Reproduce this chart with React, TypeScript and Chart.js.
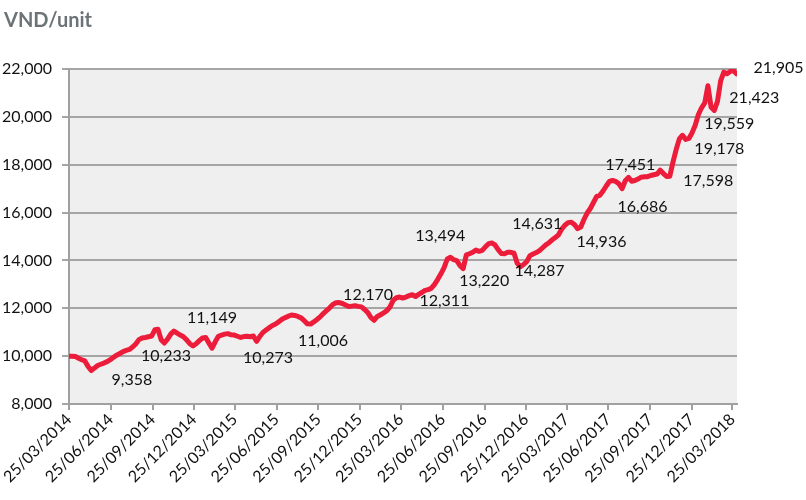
import { useEffect, useRef } from "react";
import { Chart, registerables } from "chart.js";

Chart.register(...registerables);

const START_DATE = "25/03/2014";

const xTickLabels = [
  "25/03/2014", "25/06/2014", "25/09/2014", "25/12/2014",
  "25/03/2015", "25/06/2015", "25/09/2015", "25/12/2015",
  "25/03/2016", "25/06/2016", "25/09/2016", "25/12/2016",
  "25/03/2017", "25/06/2017", "25/09/2017", "25/12/2017",
  "25/03/2018",
];

const yTickValues = [8000, 10000, 12000, 14000, 16000, 18000, 20000, 22000];

// weekly price (VND/unit) starting 25/03/2014
const weeklyPrice = [
  10000, 10000, 9990, 9910, 9850, 9800, 9570, 9400, 9500, 9610,
  9660, 9710, 9770, 9850, 9950, 10040, 10110, 10190, 10240, 10280,
  10380, 10510, 10690, 10760, 10780, 10810, 10840, 11100, 11120, 10680,
  10550, 10710, 10920, 11050, 10960, 10880, 10810, 10680, 10520, 10430,
  10520, 10650, 10760, 10780, 10550, 10330, 10600, 10830, 10880, 10920,
  10940, 10890, 10880, 10830, 10780, 10820, 10830, 10810, 10840, 10620,
  10820, 10990, 11090, 11190, 11280, 11340, 11440, 11540, 11610, 11670,
  11720, 11700, 11660, 11600, 11480, 11350, 11340, 11430, 11530, 11640,
  11780, 11900, 12020, 12160, 12230, 12240, 12200, 12140, 12070, 12090,
  12110, 12080, 12060, 11950, 11820, 11610, 11500, 11660, 11730, 11810,
  11900, 12060, 12340, 12440, 12470, 12430, 12470, 12530, 12570, 12490,
  12580, 12660, 12750, 12780, 12840, 13000, 13210, 13440, 13700, 14060,
  14130, 14030, 13990, 13780, 13660, 14230, 14280, 14340, 14430, 14380,
  14420, 14570, 14700, 14730, 14650, 14450, 14290, 14280, 14340, 14340,
  14300, 13880, 13740, 13830, 13950, 14200, 14270, 14330, 14410, 14530,
  14650, 14740, 14860, 14960, 15070, 15310, 15470, 15580, 15600, 15500,
  15330, 15400, 15710, 15980, 16170, 16420, 16680, 16720, 16900, 17110,
  17300, 17340, 17300, 17200, 17000, 17330, 17470, 17310, 17340, 17400,
  17480, 17500, 17500, 17550, 17580, 17610, 17770, 17630, 17510, 17520,
  18110, 18630, 19080, 19230, 19060, 19100, 19330, 19650, 20100, 20380,
  20580, 21300, 20400, 20270, 20650, 21500, 21870, 21800, 21900, 21940,
  21800,
];

const annotationTexts = [
  "9,358", "10,233", "11,149", "10,273", "11,006", "12,170", "12,311",
  "13,494", "13,220", "14,287", "14,631", "14,936", "17,451", "16,686",
  "17,598", "19,178", "19,559", "21,423", "21,905",
];

// label anchors in data space: [week index, value]
const annotationAnchors: [number, number][] = [
  [19.8, 9000], [30.5, 10020], [45.0, 11580], [62.6, 9930], [79.9, 10630],
  [94.1, 12580], [118.1, 12330], [116.8, 15020], [130.6, 13140], [148.0, 13580],
  [147.3, 15520], [167.5, 14780], [176.6, 17990], [180.4, 16220], [201.1, 17320],
  [204.6, 18650], [207.7, 19700], [215.6, 20800], [223.2, 22030],
];

const toDay = (s: string) => {
  const [d, m, y] = s.split("/").map(Number);
  const [d0, m0, y0] = START_DATE.split("/").map(Number);
  return Math.round((Date.UTC(y, m - 1, d) - Date.UTC(y0, m0 - 1, d0)) / 86400000);
};

const FONT = "Lato, 'Open Sans', sans-serif";

export default function App() {
  const ref = useRef<HTMLCanvasElement | null>(null);

  useEffect(() => {
    document.body.style.margin = "0";
    const canvas = ref.current;
    if (!canvas) return;

    const tickDays = xTickLabels.map(toDay);
    const labelByDay: Record<number, string> = {};
    tickDays.forEach((d, i) => (labelByDay[d] = xTickLabels[i]));

    const points = weeklyPrice.map((v, i) => ({ x: i * 7, y: v }));

    const bgPlugin = {
      id: "bg",
      beforeDraw(chart: any) {
        const { ctx, chartArea } = chart;
        ctx.save();
        ctx.fillStyle = "#ffffff";
        ctx.fillRect(0, 0, chart.width, chart.height);
        ctx.fillStyle = "#EFEFEF";
        ctx.fillRect(chartArea.left, chartArea.top, chartArea.right - chartArea.left, chartArea.bottom - chartArea.top);
        ctx.restore();
      },
    };

    const textPlugin = {
      id: "texts",
      afterDatasetsDraw(chart: any) {
        const { ctx, scales } = chart;
        ctx.save();
        ctx.fillStyle = "#6B7377";
        ctx.font = `bold 20px ${FONT}`;
        ctx.textAlign = "left";
        ctx.textBaseline = "alphabetic";
        ctx.fillText("VND/unit", 4, 27);

        ctx.fillStyle = "#111111";
        ctx.font = `16px ${FONT}`;
        ctx.textAlign = "center";
        ctx.textBaseline = "middle";
        annotationTexts.forEach((t, i) => {
          const [w, v] = annotationAnchors[i];
          const x = scales.x.getPixelForValue(w * 7);
          const y = scales.y.getPixelForValue(v);
          ctx.fillText(t, x, y);
        });
        ctx.restore();
      },
    };

    const chart = new Chart(canvas, {
      type: "line",
      data: {
        datasets: [
          {
            data: points,
            borderColor: "#EC1C3A",
            borderWidth: 5,
            pointRadius: 0,
            tension: 0,
            borderJoinStyle: "round",
            borderCapStyle: "round",
            fill: false,
          },
        ],
      },
      options: {
        animation: false,
        responsive: false,
        devicePixelRatio: 1,
        layout: { padding: { top: 69, right: 69, left: 0, bottom: 0 } },
        plugins: { legend: { display: false }, tooltip: { enabled: false } },
        scales: {
          x: {
            type: "linear",
            min: 0,
            max: 1471,
            afterBuildTicks: (s: any) => {
              s.ticks = tickDays.map((v) => ({ value: v }));
            },
            afterFit: (s: any) => {
              s.height = 96;
            },
            grid: { display: true, drawOnChartArea: false, drawTicks: true, tickLength: 6, color: "#A0A0A0", lineWidth: 2 },
            border: { display: true, color: "#A0A0A0", width: 2 },
            ticks: {
              autoSkip: false,
              maxRotation: 45,
              minRotation: 45,
              padding: 0,
              color: "#111111",
              font: { family: FONT, size: 16 },
              callback: (v: any) => labelByDay[v as number] ?? "",
            },
          },
          y: {
            min: 8000,
            max: 22000,
            afterBuildTicks: (s: any) => {
              s.ticks = yTickValues.map((v) => ({ value: v }));
            },
            afterFit: (s: any) => {
              s.width = 69;
            },
            grid: { color: "#A5A5A5", lineWidth: 2, drawTicks: true, tickLength: 7 },
            border: { display: true, color: "#A0A0A0", width: 2 },
            ticks: {
              padding: 10,
              color: "#111111",
              font: { family: FONT, size: 16 },
              callback: (v: any) => Number(v).toLocaleString("en-US"),
            },
          },
        },
      },
      plugins: [bgPlugin, textPlugin],
    } as any);

    return () => chart.destroy();
  }, []);

  return (
    <div style={{ width: 806, height: 500 }}>
      <canvas ref={ref} width={806} height={500} style={{ display: "block" }} />
    </div>
  );
}
